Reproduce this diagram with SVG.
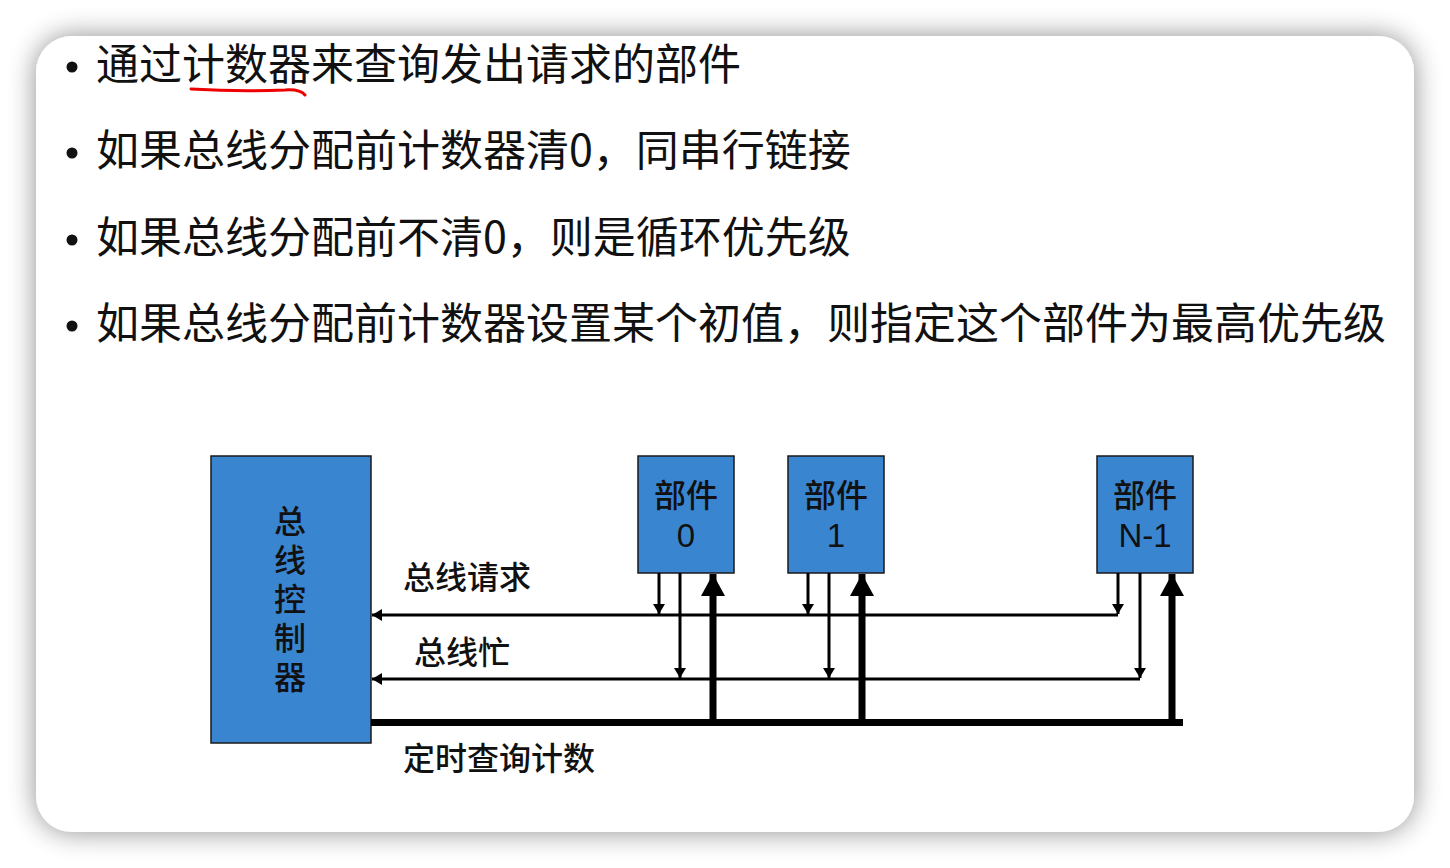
<svg xmlns="http://www.w3.org/2000/svg" width="1450" height="868" viewBox="0 0 1450 868">
<defs>
<filter id="sh" x="-10%" y="-10%" width="120%" height="120%">
<feGaussianBlur in="SourceAlpha" stdDeviation="14"/>
<feComponentTransfer><feFuncA type="linear" slope="0.45"/></feComponentTransfer>
<feMerge><feMergeNode/><feMergeNode in="SourceGraphic"/></feMerge>
</filter>
<marker id="sa" viewBox="0 0 10 12" refX="10" refY="6" markerWidth="10" markerHeight="12" markerUnits="userSpaceOnUse" orient="auto">
<path d="M0,0 L10,6 L0,12 Z" fill="#000"/>
</marker>
<marker id="ba" viewBox="0 0 22 24" refX="22" refY="12" markerWidth="22" markerHeight="24" markerUnits="userSpaceOnUse" orient="auto">
<path d="M0,0 L22,12 L0,24 Z" fill="#000"/>
</marker>
</defs>
<style>
.bt{font-family:"Noto Sans CJK SC","Noto Sans",sans-serif;font-size:43px;fill:#111}
.box{fill:#3A85D0;stroke:#1a1a1a;stroke-width:1.5}
.lb{font-family:"Noto Sans CJK SC","Liberation Sans",sans-serif;font-size:32px;font-weight:500;fill:#111;text-anchor:middle}
.ll{font-family:"Noto Sans CJK SC","Liberation Sans",sans-serif;font-size:32px;font-weight:500;fill:#111}
.vt{font-family:"Noto Sans CJK SC","Liberation Sans",sans-serif;font-size:32px;font-weight:500;fill:#111;writing-mode:vertical-rl;letter-spacing:7px}
.dg{font-family:"Liberation Sans","Noto Sans",sans-serif;font-size:33px;fill:#111;text-anchor:middle}
.thin{stroke:#000;stroke-width:3;fill:none}
.thick{stroke:#000;stroke-width:7;fill:none}
</style>
<rect x="0" y="0" width="1450" height="868" fill="#fff"/>
<rect x="36" y="36" width="1378" height="796" rx="36" ry="36" fill="#fff" filter="url(#sh)"/>
<g id="bullets">
<circle cx="72" cy="67" r="5.5" fill="#111"/>
<text class="bt" x="96" y="80">通过计数器来查询发出请求的部件</text>
<circle cx="72" cy="153" r="5.5" fill="#111"/>
<text class="bt" x="96" y="166">如果总线分配前计数器清0，同串行链接</text>
<circle cx="72" cy="240" r="5.5" fill="#111"/>
<text class="bt" x="96" y="253">如果总线分配前不清0，则是循环优先级</text>
<circle cx="72" cy="326" r="5.5" fill="#111"/>
<text class="bt" x="96" y="339">如果总线分配前计数器设置某个初值，则指定这个部件为最高优先级</text>
<path d="M191,89 Q240,92 285,90 Q300,89 305,95" stroke="#e00" stroke-width="3" fill="none" stroke-linecap="round"/>
</g>
<g id="controller">
<rect class="box" x="211" y="456" width="160" height="287"/>
<text class="vt" x="290" y="505">总线控制器</text>
</g>
<g id="part0">
<rect class="box" x="638" y="456" width="96" height="117"/>
<text class="lb" x="686" y="507">部件</text>
<text class="dg" x="686" y="547">0</text>
</g>
<g id="part1">
<rect class="box" x="788" y="456" width="96" height="117"/>
<text class="lb" x="836" y="507">部件</text>
<text class="dg" x="836" y="547">1</text>
</g>
<g id="partN">
<rect class="box" x="1097" y="456" width="96" height="117"/>
<text class="lb" x="1145" y="507">部件</text>
<text class="dg" x="1145" y="547">N-1</text>
</g>
<g id="connectors">
<path class="thin" d="M1118,615 L372,615" marker-end="url(#sa)"/>
<path class="thin" d="M1140,679 L372,679" marker-end="url(#sa)"/>
<path class="thick" d="M371,722.5 L1183,722.5"/>
<path class="thin" d="M659,573 L659,614" marker-end="url(#sa)"/>
<path class="thin" d="M680,573 L680,678" marker-end="url(#sa)"/>
<path class="thick" d="M713,726 L713,574" marker-end="url(#ba)"/>
<path class="thin" d="M808,573 L808,614" marker-end="url(#sa)"/>
<path class="thin" d="M829,573 L829,678" marker-end="url(#sa)"/>
<path class="thick" d="M862,726 L862,574" marker-end="url(#ba)"/>
<path class="thin" d="M1118,573 L1118,614" marker-end="url(#sa)"/>
<path class="thin" d="M1140,573 L1140,678" marker-end="url(#sa)"/>
<path class="thick" d="M1172,726 L1172,574" marker-end="url(#ba)"/>
</g>
<g id="labels">
<text class="ll" x="403" y="589">总线请求</text>
<text class="ll" x="414" y="664">总线忙</text>
<text class="ll" x="403" y="770">定时查询计数</text>
</g>
</svg>
